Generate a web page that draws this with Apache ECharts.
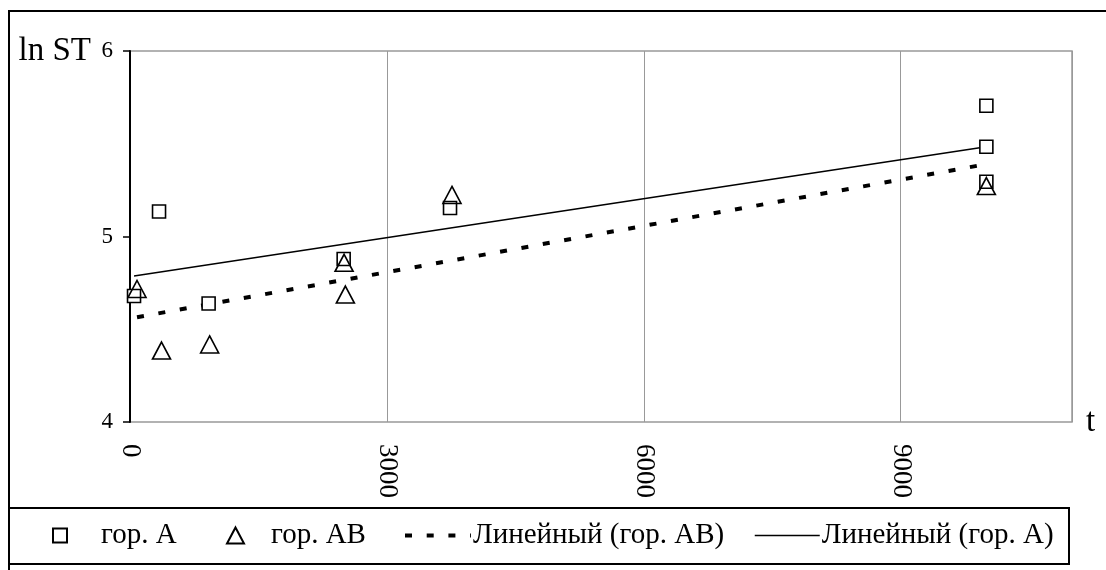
<!DOCTYPE html>
<html>
<head>
<meta charset="utf-8">
<script src="https://cdn.jsdelivr.net/npm/echarts@6/dist/echarts.min.js"></script>
<style>
html,body{margin:0;padding:0;background:#fff;}
#chart{width:1106px;height:570px;}
</style>
</head>
<body>
<div id="chart"></div>
<script>
// --- data ---
const seriesNames = ['гор. A', 'гор. AB', 'Линейный (гор. AB)', 'Линейный (гор. A)'];
const xTicks = [0, 3000, 6000, 9000];
const yTicks = [4, 5, 6];
const horA = [[47, 4.679], [339, 5.135], [918, 4.639], [2495, 4.879], [3737, 5.154], [10000, 5.705], [10000, 5.484], [10000, 5.295]];
const horAB = [[82, 4.717], [368, 4.385], [930, 4.418], [2500, 4.858], [2515, 4.687], [3760, 5.224], [10000, 5.272]];
const trendAB = [[82, 4.565], [10000, 5.39]];
const trendA = [[47, 4.787], [10000, 5.484]];
const xName = 't';
const yName = 'ln ST';

const FONT = 'Liberation Serif';
const chart = echarts.init(document.getElementById('chart'), null, {renderer: 'canvas'});

const legendText = {fontFamily: FONT, fontSize: 29, color: '#000'};
const legendBase = {top: 521, selectedMode: false, padding: 0, itemGap: 0};

chart.setOption({
  animation: false,
  backgroundColor: '#fff',
  grid: {left: 130, top: 51, width: 942, height: 371, show: true, borderColor: '#999', borderWidth: 1.5},
  xAxis: {
    type: 'value', min: 0, max: 11000, interval: 3000,
    name: xName, nameLocation: 'end', nameGap: 14,
    nameTextStyle: {fontFamily: FONT, fontSize: 33, color: '#000', verticalAlign: 'middle', padding: [6, 0, 0, 0]},
    axisLine: {show: false}, axisTick: {show: false},
    splitLine: {show: true, lineStyle: {color: '#999', width: 1}},
    axisLabel: {
      fontFamily: FONT, fontSize: 27, color: '#000', rotate: -90, margin: 22,
      customValues: xTicks,
      formatter: v => String(v)
    }
  },
  yAxis: {
    type: 'value', min: 4, max: 6, interval: 1,
    name: yName, nameLocation: 'end', nameGap: 0,
    nameTextStyle: {fontFamily: FONT, fontSize: 33, color: '#000', align: 'right', verticalAlign: 'middle', padding: [0, 39, 0, 0]},
    axisLine: {show: true, lineStyle: {color: '#000', width: 2}},
    axisTick: {show: true, inside: false, length: 7, lineStyle: {color: '#000', width: 1.5}},
    splitLine: {show: false},
    axisLabel: {fontFamily: FONT, fontSize: 23, color: '#000', margin: 17, customValues: yTicks}
  },
  legend: [
    Object.assign({}, legendBase, {data: [seriesNames[0]], left: 52, itemWidth: 14, itemHeight: 14,
      textStyle: Object.assign({padding: [0, 0, 0, 29]}, legendText)}),
    Object.assign({}, legendBase, {data: [seriesNames[1]], left: 226, itemWidth: 17, itemHeight: 16,
      textStyle: Object.assign({padding: [0, 0, 0, 22]}, legendText)}),
    Object.assign({}, legendBase, {data: [seriesNames[2]], left: 403, itemWidth: 66, itemHeight: 14,
      itemStyle: {opacity: 0}, lineStyle: {width: 4, type: [7, 14.7], color: '#000'},
      textStyle: Object.assign({padding: [0, 0, 0, -3]}, legendText)}),
    Object.assign({}, legendBase, {data: [seriesNames[3]], left: 754, itemWidth: 65, itemHeight: 14,
      itemStyle: {opacity: 0}, lineStyle: {width: 1.5, color: '#000'},
      textStyle: Object.assign({padding: [0, 0, 0, -3]}, legendText)})
  ],
  graphic: [
    {type: 'rect', shape: {x: 9, y: 11, width: 1120, height: 600}, style: {fill: 'none', stroke: '#000', lineWidth: 2}, silent: true, z: 100},
    {type: 'rect', shape: {x: 9, y: 508, width: 1060, height: 56}, style: {fill: 'none', stroke: '#000', lineWidth: 2}, silent: true, z: 100}
  ],
  series: [
    {
      name: seriesNames[0], type: 'scatter', data: horA, symbol: 'rect', symbolSize: 13,
      itemStyle: {color: '#fff', borderColor: '#000', borderWidth: 1.6, opacity: 1}, z: 3
    },
    {
      name: seriesNames[1], type: 'scatter', data: horAB, symbol: 'triangle', symbolSize: [18, 17],
      itemStyle: {color: 'rgba(0,0,0,0)', borderColor: '#000', borderWidth: 1.6, opacity: 1}, z: 4
    },
    {
      name: seriesNames[2], type: 'line', data: trendAB, showSymbol: false, symbol: 'none',
      lineStyle: {color: '#000', width: 4, type: [7, 14.7]}, itemStyle: {color: '#000'}, z: 2
    },
    {
      name: seriesNames[3], type: 'line', data: trendA, showSymbol: false, symbol: 'none',
      lineStyle: {color: '#000', width: 1.5}, itemStyle: {color: '#000'}, z: 2
    }
  ]
});
</script>
</body>
</html>
